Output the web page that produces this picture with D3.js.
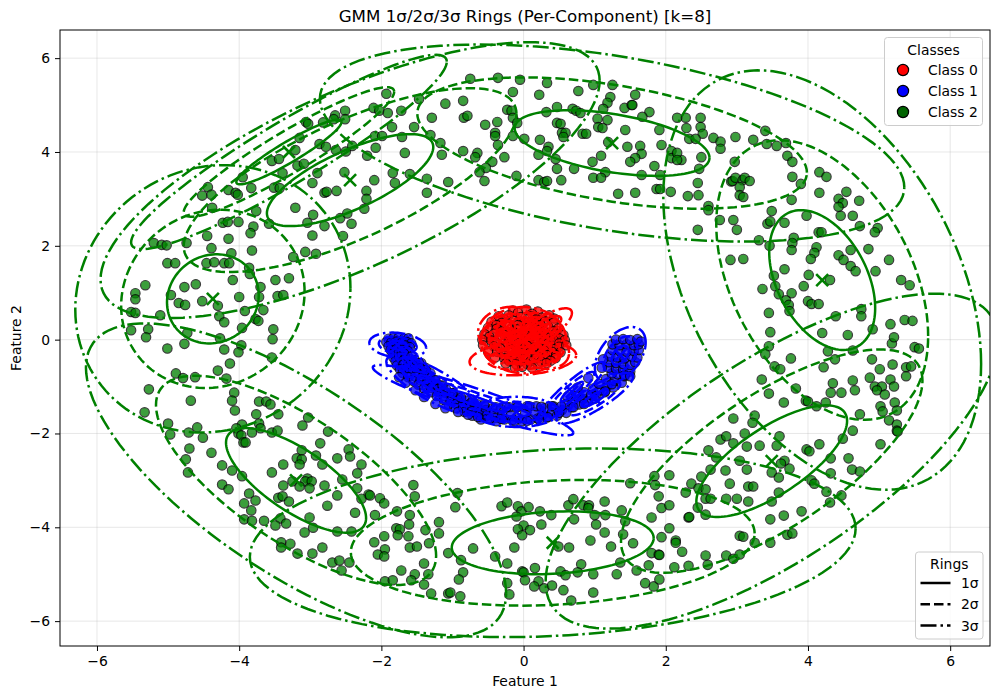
<!DOCTYPE html>
<html>

<head>
    <meta charset="utf-8">
    <style>
        body {
            margin: 0;
            background: white;
        }

        svg text {
            font-family: "DejaVu Sans", sans-serif;
            fill: black;
        }

        .grid line {
            stroke: #b0b0b0;
            stroke-opacity: 0.3;
        }
    </style>
</head>

<body>
    <svg width="999" height="699"></svg>
</body>

<script src="https://d3js.org/d3.v7.min.js"></script>

<script>
    let margin = { top: 30, right: 9, bottom: 53, left: 60 };
    let width = 999;
    let height = 699;

    let xDomain = [-6.52, 6.56];
    let yDomain = [-6.53, 6.6];
    let tickValues = [-6, -4, -2, 0, 2, 4, 6];
    let classNames = ["Class 0", "Class 1", "Class 2"];
    let classColors = ["#ff0000", "#0000ff", "#008000"];
    let legendColors = ["#ff0000", "#0000ff", "#006400"];
    let ringLevels = [1, 2, 3];
    let ringLabels = ["1σ", "2σ", "3σ"];

    // cx, cy, sx, sy, rho of each mixture component
    let ringsClass0 = [
        [0, -0.01, 0.2, 0.235, 0],
        [0.23, 0.17, 0.15, 0.166, 0.8],
        [-0.01, -0.4, 0.25, 0.12, 0.2],
        [-0.25, 0.1, 0.12, 0.15, 0.3],
        [-0.25, 0.25, 0.13, 0.15, 0.2],
        [0.25, -0.2, 0.13, 0.14, -0.2],
        [-0.1, -0.15, 0.15, 0.12, 0.3],
        [0.1, 0.3, 0.14, 0.09, 0]
    ];
    let ringsClass1 = [
        [-1.77, -0.12, 0.133, 0.09, -0.2],
        [1.36, -0.33, 0.119, 0.2, 0.45],
        [-0.71, -1.29, 0.47, 0.25, -0.93],
        [0.68, -1.11, 0.157, 0.21, 0.9],
        [-0.1, -1.54, 0.2, 0.107, 0],
        [-1.27, -0.97, 0.22, 0.21, -0.8],
        [1.0, -1.25, 0.18, 0.18, 0.85],
        [-1.6, -0.5, 0.1, 0.14, -0.7]
    ];
    let ringsClass2 = [
        [-4.37, 0.87, 0.645, 0.95, 0.08],
        [-3.3, 4.0, 0.74, 0.69, 0.93],
        [-2.44, 3.4, 1.17, 0.98, 0.72],
        [1.245, 4.19, 1.37, 0.7, -0.45],
        [4.2, 1.27, 0.745, 1.49, -0.4],
        [3.49, -2.59, 1.06, 1.19, 0.72],
        [0.41, -4.33, 1.42, 0.67, 0.15],
        [-3.2, -3.0, 0.985, 1.115, -0.72]
    ];

    let pointsClass0 = [
        [-0.15, 0.62], [0.04, 0.64], [0.2, 0.6], [-0.08, 0.57], [0.12, 0.55],
        [-0.35, 0.5], [-0.21, 0.52], [-0.04, 0.48], [0.1, 0.5], [0.26, 0.47], [0.36, 0.52], [-0.28, 0.44], [0.18, 0.43], [0.43, 0.45],
        [-0.45, 0.38], [-0.31, 0.36], [-0.14, 0.4], [0.01, 0.37], [0.15, 0.35], [0.3, 0.39], [0.42, 0.36], [-0.38, 0.31], [-0.08, 0.31], [0.08, 0.29], [0.24, 0.31],
        [-0.5, 0.25], [-0.38, 0.23], [-0.22, 0.27], [-0.08, 0.22], [0.06, 0.25], [0.2, 0.21], [0.35, 0.26], [0.49, 0.24], [-0.3, 0.18], [-0.15, 0.17], [0.13, 0.17], [0.28, 0.18], [0.42, 0.18],
        [-0.55, 0.12], [-0.41, 0.13], [-0.27, 0.1], [-0.12, 0.13], [0.03, 0.1], [0.17, 0.12], [0.3, 0.09], [0.45, 0.12], [0.56, 0.1], [-0.48, 0.06], [-0.2, 0.05], [-0.05, 0.04], [0.1, 0.05], [0.24, 0.03], [0.38, 0.05], [0.5, 0.03],
        [-0.58, 0], [-0.45, -0.02], [-0.3, 0.01], [-0.16, -0.02], [0, -0.01], [0.13, 0.01], [0.28, -0.03], [0.42, 0], [0.58, -0.01], [-0.38, -0.07], [-0.22, -0.08], [-0.07, -0.07], [0.07, -0.08], [0.2, -0.06], [0.35, -0.07], [0.5, -0.08],
        [-0.57, -0.12], [-0.42, -0.14], [-0.25, -0.13], [-0.1, -0.15], [0.05, -0.13], [0.2, -0.15], [0.35, -0.13], [0.5, -0.15], [0.6, -0.12], [-0.33, -0.19], [-0.17, -0.2], [-0.02, -0.21], [0.13, -0.2], [0.28, -0.21], [0.43, -0.2],
        [-0.5, -0.25], [-0.37, -0.26], [-0.2, -0.27], [-0.05, -0.28], [0.1, -0.26], [0.25, -0.28], [0.4, -0.26], [0.52, -0.27], [-0.28, -0.33], [-0.12, -0.34], [0.04, -0.33], [0.18, -0.34], [0.33, -0.33], [0.46, -0.33],
        [-0.4, -0.38], [-0.27, -0.4], [-0.13, -0.4], [0.02, -0.41], [0.17, -0.4], [0.32, -0.41], [0.45, -0.39], [-0.2, -0.46], [-0.06, -0.47], [0.1, -0.46], [0.25, -0.47], [0.38, -0.45],
        [-0.25, -0.51], [-0.1, -0.53], [0.05, -0.52], [0.2, -0.53], [0.32, -0.5], [-0.02, -0.58], [0.12, -0.6], [-0.12, -0.6]
    ];

    let pointsClass1 = [
        [-1.9, 0.02], [-1.83, 0.03], [-1.76, 0.04], [-1.68, 0.02], [-1.62, 0.03], [-1.93, -0.05], [-1.86, -0.06], [-1.79, -0.04], [-1.71, -0.06], [-1.64, -0.05], [-1.58, -0.08],
        [-1.9, -0.14], [-1.82, -0.13], [-1.74, -0.14], [-1.67, -0.12], [-1.6, -0.16], [-1.87, -0.22], [-1.79, -0.2], [-1.71, -0.22], [-1.63, -0.24], [-1.84, -0.3], [-1.76, -0.29], [-1.68, -0.3],
        [-1.83, -0.38], [-1.75, -0.37], [-1.66, -0.38], [-1.58, -0.36], [-1.8, -0.46], [-1.71, -0.45], [-1.62, -0.47], [-1.53, -0.44], [-1.78, -0.55], [-1.69, -0.53], [-1.6, -0.55], [-1.5, -0.54], [-1.44, -0.5],
        [-1.74, -0.63], [-1.65, -0.62], [-1.56, -0.63], [-1.46, -0.61], [-1.38, -0.6], [-1.7, -0.71], [-1.6, -0.7], [-1.5, -0.71], [-1.4, -0.7], [-1.31, -0.72], [-1.62, -0.8], [-1.52, -0.79], [-1.42, -0.8], [-1.32, -0.78],
        [-1.55, -0.88], [-1.45, -0.87], [-1.35, -0.88], [-1.25, -0.87], [-1.48, -0.96], [-1.37, -0.95], [-1.27, -0.96], [-1.17, -0.98], [-1.4, -1.04], [-1.3, -1.03], [-1.2, -1.05], [-1.09, -1.06],
        [-1.3, -1.12], [-1.2, -1.12], [-1.1, -1.13], [-1.0, -1.14], [-1.22, -1.2], [-1.12, -1.2], [-1.02, -1.22], [-0.92, -1.21], [-1.12, -1.28], [-1.02, -1.3], [-0.92, -1.29], [-0.82, -1.3],
        [-1.05, -1.38], [-0.95, -1.37], [-0.85, -1.38], [-0.75, -1.36], [-0.65, -1.38], [-0.95, -1.46], [-0.85, -1.45], [-0.75, -1.46], [-0.65, -1.45], [-0.55, -1.42], [-0.83, -1.54], [-0.73, -1.53], [-0.63, -1.54], [-0.53, -1.5], [-0.43, -1.46],
        [-0.72, -1.62], [-0.62, -1.61], [-0.52, -1.62], [-0.42, -1.58], [-0.32, -1.48], [-0.6, -1.7], [-0.5, -1.68], [-0.4, -1.67], [-0.3, -1.6], [-0.2, -1.44], [-0.38, -1.74], [-0.27, -1.7], [-0.18, -1.62], [-0.1, -1.44],
        [-0.16, -1.72], [-0.06, -1.68], [0.02, -1.58], [0.05, -1.42], [-0.02, -1.74], [0.1, -1.7], [0.15, -1.55], [0.18, -1.42], [0.2, -1.68], [0.27, -1.6], [0.3, -1.46], [0.33, -1.66], [0.4, -1.55], [0.42, -1.42],
        [0.47, -1.62], [0.54, -1.5], [0.58, -1.38], [0.6, -1.56], [0.68, -1.44], [0.7, -1.3], [0.74, -1.2], [0.78, -1.38], [0.84, -1.26], [0.85, -1.12], [0.9, -1.32], [0.95, -1.18], [0.98, -1.04],
        [1.02, -1.2], [1.07, -1.08], [1.06, -0.94], [1.14, -1.12], [1.18, -0.98], [1.16, -0.84], [1.26, -1.02], [1.28, -0.88], [1.32, -0.74], [1.24, -0.72], [1.38, -0.92], [1.42, -0.78],
        [1.2, -0.6], [1.3, -0.62], [1.4, -0.64], [1.5, -0.68], [1.2, -0.48], [1.3, -0.5], [1.4, -0.52], [1.5, -0.54], [1.57, -0.48], [1.22, -0.36], [1.32, -0.38], [1.42, -0.4], [1.52, -0.36], [1.6, -0.38],
        [1.25, -0.22], [1.35, -0.24], [1.45, -0.26], [1.55, -0.24], [1.62, -0.22], [1.25, -0.1], [1.35, -0.12], [1.45, -0.1], [1.55, -0.12], [1.62, -0.1], [1.3, 0], [1.4, 0.01], [1.5, -0.01], [1.6, 0.01], [1.65, -0.04],
        // band edges
        [-1.47, -0.5], [-1.38, -0.65], [-1.24, -0.86], [-1.14, -0.98], [-1.0, -1.14], [-0.88, -1.24], [-0.72, -1.32], [-0.55, -1.38], [-0.39, -1.44], [-0.24, -1.44], [-0.08, -1.43], [0.08, -1.42], [0.25, -1.43], [0.4, -1.42], [0.53, -1.42],
        [0.62, -1.21], [0.76, -1.02], [0.91, -0.82], [1.1, -0.6], [1.12, -0.42],
        [-1.75, -0.8], [-1.66, -0.92], [-1.52, -1.08], [-1.4, -1.22], [-1.24, -1.37], [-1.1, -1.46], [-0.92, -1.54], [-0.78, -1.6], [-0.64, -1.65], [-0.48, -1.69], [-0.31, -1.69], [-0.13, -1.73], [0.05, -1.73], [0.22, -1.7], [0.34, -1.65],
        [0.5, -1.56], [0.7, -1.44], [0.85, -1.37], [1.0, -1.26], [1.15, -1.1], [1.24, -0.95], [1.42, -0.76], [1.5, -0.78]
    ];

    let pointsClass2 = [
        // top left
        [-2.51, 4.88], [-2.65, 4.78], [-2.51, 4.70], [-2.67, 4.70], [-2.82, 4.63], [-3.06, 4.64], [-3.03, 4.60], [-3.15, 4.30], [-3.21, 4.04], [-2.87, 4.17], [-2.78, 4.11], [-2.64, 4.04], [-2.50, 4.01], [-2.41, 4.13], [-2.20, 3.92], [-3.54, 3.81], [-3.44, 3.85], [-3.18, 3.71], [-3.09, 3.75], [-3.39, 3.55], [-2.90, 3.55], [-2.52, 3.57], [-2.97, 3.34], [-3.95, 3.46], [-3.83, 3.23], [-3.51, 3.24], [-3.43, 3.23], [-4.44, 3.25], [-4.52, 3.07], [-4.39, 3.09], [-4.15, 3.19], [-4.05, 3.13], [-4.02, 3.09], [-2.80, 3.13], [-2.77, 3.15], [-2.63, 3.17], [-2.21, 3.17], [-2.21, 3.00], [-2.24, 2.79], [-3.21, 2.81], [-4.38, 2.81], [-3.76, 2.74], [-2.96, 2.66], [-2.58, 2.59], [-2.48, 2.69], [-2.42, 2.47], [-4.23, 2.49], [-4.16, 2.51], [-4.01, 2.51], [-3.80, 2.41], [-3.84, 2.27], [-3.58, 2.47], [-3.04, 2.49], [-2.80, 2.42], [-4.45, 2.21], [-4.15, 2.15], [-2.97, 2.22], [-2.54, 2.21], [-5.20, 2.06], [-5.09, 2.02], [-5.02, 2.01], [-4.74, 2.06], [-4.39, 1.95], [-4.11, 1.84], [-3.82, 1.90], [-3.07, 1.87], [-2.92, 1.83], [-3.24, 1.76], [-5.01, 1.63], [-4.90, 1.63], [-4.46, 1.63], [-4.35, 1.65], [-4.21, 1.63], [-4.14, 1.63], [-3.86, 1.53], [-3.85, 1.40], [-4.09, 1.27], [-3.49, 1.27], [-3.30, 1.31], [-5.32, 1.16], [-4.77, 1.12], [-4.61, 1.18], [-5.46, 0.99], [-5.46, 0.86], [-4.96, 0.95], [-3.70, 1.12], [-3.72, 0.91], [-4.00, 0.91], [-3.46, 0.93], [-3.38, 0.95], [-4.85, 0.78], [-4.76, 0.74], [-4.52, 0.82], [-4.30, 0.72], [-5.52, 0.59], [-5.46, 0.57], [-5.11, 0.52], [-4.28, 0.50], [-3.92, 0.61], [-3.66, 0.63], [-3.77, 0.44], [-3.73, 0.40], [-4.21, 0.37], [-5.28, 0.22], [-5.52, 0.20], [-3.96, 0.25], [-3.52, 0.22], [-4.73, 0.14], [-5.31, 0.05], [-4.27, 0.03], [-3.53, 0.01],
        // bottom left
        [-5.01, -0.19], [-4.77, -0.09], [-4.21, -0.21], [-3.97, -0.12], [-4.01, -0.27], [-3.54, -0.38], [-4.13, -0.51], [-4.89, -0.72], [-4.79, -0.82], [-4.62, -0.80], [-4.30, -0.66], [-4.18, -0.83], [-5.27, -1.06], [-4.68, -1.30], [-4.07, -1.13], [-4.10, -1.30], [-4.06, -1.51], [-3.72, -1.32], [-3.62, -1.32], [-3.56, -1.38], [-3.45, -1.59], [-3.76, -1.59], [-5.33, -1.55], [-3.03, -1.66], [-3.11, -1.83], [-2.75, -1.96], [-5.00, -1.79], [-4.97, -2.02], [-4.71, -1.98], [-4.59, -1.87], [-4.51, -2.09], [-3.96, -1.81], [-4.04, -1.89], [-4.01, -2.00], [-3.97, -2.04], [-3.82, -1.98], [-3.72, -1.79], [-3.70, -1.89], [-3.54, -1.98], [-3.46, -1.94], [-3.94, -2.19], [-3.91, -2.19], [-4.70, -2.32], [-4.75, -2.55], [-4.39, -2.41], [-4.72, -2.83], [-4.24, -2.68], [-4.10, -2.79], [-3.96, -2.91], [-3.12, -2.36], [-3.19, -2.53], [-3.12, -2.55], [-3.15, -2.66], [-3.38, -2.66], [-2.92, -2.47], [-2.86, -2.21], [-2.83, -2.66], [-2.62, -2.53], [-2.46, -2.34], [-2.44, -2.49], [-2.28, -2.66], [-2.34, -2.85], [-3.54, -2.83], [-3.25, -3.02], [-3.04, -2.96], [-3.07, -3.02], [-2.98, -3.02], [-3.38, -3.11], [-3.15, -3.13], [-3.01, -3.17], [-2.80, -3.11], [-2.55, -2.98], [-2.34, -3.17], [-2.18, -3.30], [-2.28, -3.39], [-2.62, -3.32], [-4.24, -3.09], [-4.15, -3.19], [-3.86, -3.28], [-3.77, -3.43], [-3.93, -3.49], [-3.83, -3.64], [-3.45, -3.37], [-3.39, -3.34], [-3.30, -3.45], [-2.76, -3.54], [-2.37, -3.69], [-3.93, -3.83], [-3.82, -3.86], [-3.65, -3.86], [-3.42, -3.81], [-3.49, -3.96], [-3.34, -3.92], [-3.01, -3.79], [-2.96, -4.01], [-3.08, -4.11], [-2.62, -4.09], [-2.42, -4.09], [-3.41, -4.32], [-3.28, -4.35], [-3.41, -4.43], [-3.18, -4.56], [-2.97, -4.56], [-2.83, -4.43], [-2.69, -4.75], [-2.59, -4.71], [-2.45, -4.75], [-2.56, -4.92],
        // bottom middle
        [-1.55, -3.10], [-1.53, -3.34], [-2.16, -3.32], [-2.02, -3.38], [-1.96, -3.49], [-1.78, -3.66], [-2.09, -3.74], [-1.60, -3.74], [-1.61, -3.94], [-0.93, -3.27], [-0.96, -3.57], [-1.19, -3.89], [-1.19, -4.13], [-1.38, -4.06], [-1.79, -4.02], [-1.74, -4.04], [-1.77, -4.17], [-1.62, -4.19], [-1.96, -4.19], [-2.10, -4.32], [-1.95, -4.47], [-1.60, -4.43], [-1.50, -4.41], [-1.33, -4.34], [-2.05, -4.58], [-1.96, -4.62], [-1.06, -4.55], [-0.88, -4.70], [-0.71, -4.45], [-0.40, -4.62], [-0.13, -4.43], [-0.23, -4.77], [-0.85, -4.96], [-0.91, -5.11], [-1.40, -4.77], [-1.72, -4.92], [-1.53, -5.00], [-1.34, -5.00], [-1.58, -5.13], [-1.95, -5.15], [-1.84, -5.13], [-1.40, -5.22], [-1.30, -5.41], [-1.06, -5.41], [-1.03, -5.39], [-0.89, -5.47], [-0.31, -3.55], [-0.23, -3.47], [-0.08, -3.55], [-0.03, -3.66], [0.07, -3.57], [-0.10, -3.77], [0.23, -3.66], [0.39, -3.74], [0.25, -3.94], [0.00, -3.96], [-0.08, -4.04], [0.09, -4.06], [-0.02, -4.17], [0.63, -3.53], [0.70, -3.40], [0.84, -3.53], [0.92, -3.53], [0.91, -3.59], [1.14, -3.45], [0.71, -3.83], [1.00, -3.74], [1.15, -3.74], [1.38, -3.64], [1.02, -3.94], [1.43, -3.87], [1.14, -4.11], [1.40, -4.15], [0.94, -4.28], [1.54, -4.34], [1.23, -4.41], [0.49, -4.41], [0.64, -4.43], [1.80, -3.79], [1.94, -3.59], [2.05, -3.53], [1.80, -4.55], [1.94, -4.21], [2.05, -4.02], [2.14, -4.28], [2.14, -4.33], [1.90, -4.58], [1.91, -4.59], [1.76, -4.81], [1.59, -4.92], [1.36, -4.75], [2.12, -4.85], [0.81, -4.79], [0.76, -4.96], [0.52, -4.94], [0.59, -5.02], [0.98, -5.00], [1.31, -5.00], [0.16, -4.87], [-0.02, -4.94], [0.00, -4.96], [0.02, -5.13], [-0.23, -5.19], [0.21, -5.15], [0.15, -5.26], [0.29, -5.30], [0.40, -5.24], [0.56, -5.34], [-0.20, -5.43], [0.67, -5.56], [0.98, -5.39], [1.71, -5.19], [1.83, -5.26], [1.91, -5.11], [1.50, -3.06], [1.84, -2.91], [1.85, -3.10], [2.05, -2.89], [1.90, -3.34],
        // bottom right
        [3.45, -0.14], [3.40, -0.31], [3.76, -0.40], [3.53, -0.57], [3.61, -0.63], [3.35, -0.85], [3.45, -1.15], [3.83, -1.04], [3.66, -1.34], [3.97, -1.30], [4.00, -1.32], [4.12, -1.42], [4.25, -1.34], [4.22, -0.59], [4.28, -0.25], [4.38, -0.42], [4.63, -0.23], [4.90, -0.42], [5.01, -0.63], [5.19, -0.53], [5.18, -0.08], [5.50, -0.16], [5.56, -0.19], [5.38, -0.59], [5.45, -0.57], [5.38, -0.78], [4.87, -0.81], [4.63, -0.87], [5.16, -0.85], [4.35, -0.93], [4.32, -1.13], [4.47, -1.13], [4.66, -1.08], [4.94, -1.00], [5.04, -1.00], [4.97, -1.08], [5.21, -1.00], [5.08, -1.17], [5.22, -1.34], [5.02, -1.42], [5.05, -1.53], [5.25, -1.51], [5.14, -1.72], [5.25, -1.81], [5.25, -1.94], [5.26, -1.96], [4.73, -1.59], [4.63, -1.94], [4.49, -2.11], [5.02, -2.23], [2.95, -1.68], [3.25, -1.62], [3.22, -1.77], [3.11, -2.00], [3.60, -2.06], [2.77, -2.13], [2.85, -2.06], [2.95, -2.21], [3.14, -2.28], [3.32, -2.26], [3.56, -2.26], [3.98, -2.34], [4.02, -2.38], [4.16, -2.23], [4.32, -2.53], [4.57, -2.53], [4.62, -2.77], [4.73, -2.81], [4.32, -2.85], [2.60, -2.36], [2.71, -2.51], [3.04, -2.58], [2.63, -2.77], [2.84, -2.79], [3.14, -2.77], [3.67, -2.58], [3.62, -2.64], [3.74, -2.75], [3.49, -2.83], [3.59, -2.94], [2.50, -2.92], [2.90, -3.07], [3.16, -3.13], [3.23, -3.13], [4.05, -3.00], [4.09, -3.07], [2.36, -3.07], [2.28, -3.26], [2.46, -3.17], [2.56, -3.19], [2.56, -3.39], [2.63, -3.39], [2.85, -3.39], [3.00, -3.39], [3.16, -3.45], [3.59, -3.26], [3.49, -3.45], [4.26, -3.24], [4.47, -3.32], [4.31, -3.47], [2.45, -3.58], [2.56, -3.73], [2.32, -3.79], [2.33, -3.78], [3.47, -3.83], [3.66, -3.75], [3.91, -3.66], [3.04, -4.18], [3.09, -4.20], [3.25, -4.33], [3.47, -4.33], [3.71, -4.16], [3.78, -4.13], [2.23, -4.52], [2.56, -4.60], [2.85, -4.60], [2.95, -4.67], [3.04, -4.58], [2.32, -4.82], [2.59, -4.80],
        // top right
        [2.28, 4.73], [2.49, 4.73], [2.29, 4.51], [2.49, 4.53], [2.52, 4.39], [2.33, 4.28], [2.42, 4.28], [2.67, 4.30], [2.77, 4.22], [2.77, 4.07], [2.98, 4.32], [3.23, 4.26], [3.40, 4.45], [3.42, 4.17], [3.56, 4.13], [3.69, 4.19], [3.71, 3.92], [3.78, 3.79], [2.97, 3.79], [2.50, 3.89], [2.47, 3.64], [2.22, 3.83], [2.45, 3.34], [2.31, 3.06], [2.46, 3.08], [3.78, 3.47], [4.16, 3.57], [4.26, 3.47], [3.90, 3.32], [2.92, 3.37], [2.94, 3.38], [2.98, 3.45], [3.08, 3.40], [3.11, 3.45], [3.18, 3.38], [3.04, 3.25], [3.04, 3.08], [3.09, 3.04], [4.16, 3.13], [3.77, 2.98], [4.54, 3.15], [4.43, 3.00], [4.49, 2.91], [4.43, 2.83], [4.72, 2.96], [2.60, 2.85], [2.60, 2.76], [3.49, 2.74], [3.98, 2.64], [4.46, 2.64], [4.63, 2.64], [2.76, 2.55], [2.95, 2.55], [2.45, 2.34], [3.00, 2.34], [3.43, 2.47], [3.47, 2.52], [3.67, 2.49], [4.73, 2.42], [4.98, 2.38], [4.94, 2.29], [4.15, 2.29], [4.19, 2.29], [3.31, 2.12], [3.80, 2.17], [3.78, 2.06], [3.46, 2.00], [3.77, 1.91], [4.12, 1.97], [4.09, 1.85], [4.04, 1.72], [4.43, 1.80], [4.50, 1.70], [4.60, 1.91], [4.85, 1.93], [5.14, 1.70], [2.91, 1.70], [3.09, 1.72], [3.67, 1.50], [4.60, 1.57], [4.67, 1.46], [4.95, 1.46], [3.52, 1.36], [4.01, 1.38], [4.31, 1.27], [5.31, 1.27], [5.43, 1.16], [3.36, 1.08], [3.54, 1.14], [3.94, 1.14], [3.59, 0.97], [3.77, 0.99], [3.69, 0.84], [4.00, 0.82], [4.05, 0.76], [4.15, 0.76], [3.73, 0.74], [3.74, 0.61], [3.45, 0.57], [4.39, 0.50], [4.75, 0.65], [4.75, 0.50], [4.91, 0.22], [5.16, 0.33], [5.36, 0.42], [5.47, 0.40], [3.47, 0.16], [4.20, 0.14], [4.56, 0.10], [5.21, 0.05],
        // top middle
        [-0.75, 5.56], [-0.36, 5.58], [-0.05, 5.54], [0.33, 5.47], [-0.15, 5.28], [0.22, 5.22], [0.77, 5.30], [0.98, 5.43], [1.25, 5.43], [1.57, 5.22], [1.22, 5.17], [1.18, 5.05], [1.12, 4.92], [-1.93, 5.24], [-1.47, 5.13], [-1.10, 5.03], [-0.85, 5.09], [-2.11, 4.94], [-2.03, 4.88], [-1.91, 4.83], [-1.72, 4.88], [-1.29, 4.73], [-0.84, 4.73], [-0.79, 4.77], [-0.23, 4.90], [-0.17, 4.88], [-0.15, 4.73], [0.32, 4.85], [0.47, 4.96], [0.69, 4.92], [0.74, 4.88], [0.80, 4.83], [1.42, 4.94], [1.52, 5.00], [1.53, 5.00], [1.77, 4.85], [1.67, 4.75], [1.04, 4.71], [1.18, 4.68], [1.05, 4.53], [1.11, 4.51], [-1.85, 4.53], [-1.54, 4.53], [-0.54, 4.58], [-0.37, 4.64], [-0.09, 4.62], [0.47, 4.62], [0.52, 4.60], [1.43, 4.47], [1.91, 4.47], [2.16, 4.73], [-2.09, 4.34], [-1.99, 4.34], [-1.71, 4.32], [-1.31, 4.36], [-0.40, 4.41], [-0.40, 4.34], [-0.15, 4.34], [0.01, 4.28], [0.23, 4.26], [0.54, 4.41], [0.59, 4.41], [0.56, 4.32], [0.83, 4.39], [0.88, 4.39], [1.19, 4.21], [-1.17, 4.19], [-0.36, 4.15], [0.35, 4.11], [0.33, 4.02], [1.46, 4.11], [1.64, 4.13], [1.94, 4.15], [-2.08, 4.09], [-1.67, 3.98], [-0.85, 4.02], [-0.65, 3.98], [-0.68, 3.89], [-1.15, 3.94], [-0.27, 3.89], [0.21, 3.94], [0.45, 3.85], [1.09, 3.92], [1.66, 3.96], [1.57, 3.87], [1.50, 3.79], [2.08, 4.02], [2.08, 3.87], [2.16, 3.98], [2.16, 3.83], [-0.44, 3.79], [0.97, 3.79], [1.84, 3.70], [-0.53, 3.66], [-0.62, 3.57], [0.47, 3.64], [0.71, 3.64], [1.15, 3.57], [-1.84, 3.55], [-1.60, 3.53], [-2.10, 3.40], [-1.81, 3.34], [-1.36, 3.43], [-1.06, 3.36], [-0.55, 3.38], [-0.10, 3.49], [0.21, 3.40], [0.29, 3.36], [0.33, 3.38], [0.53, 3.40], [0.98, 3.45], [1.09, 3.45], [1.66, 3.51], [1.92, 3.51], [-1.36, 3.13], [1.33, 3.11], [1.57, 3.13], [1.87, 3.21], [1.92, 3.21], [2.07, 3.15]
    ];

    let classPoints = [pointsClass0, pointsClass1, pointsClass2];
    let classRings = [ringsClass0, ringsClass1, ringsClass2];

    let svg = d3.select("svg");

    let x = d3.scaleLinear()
        .domain(xDomain)
        .range([margin.left, width - margin.right]);

    let y = d3.scaleLinear()
        .domain(yDomain)
        .range([height - margin.bottom, margin.top]);

    svg.append("clipPath")
        .attr("id", "plot-clip")
        .append("rect")
        .attr("x", margin.left)
        .attr("y", margin.top)
        .attr("width", width - margin.left - margin.right)
        .attr("height", height - margin.top - margin.bottom);

    // grid
    let grid = svg.append("g").attr("class", "grid");

    grid.selectAll(".vgrid")
        .data(tickValues)
        .join("line")
        .attr("class", "vgrid")
        .attr("x1", d => x(d))
        .attr("x2", d => x(d))
        .attr("y1", margin.top)
        .attr("y2", height - margin.bottom);

    grid.selectAll(".hgrid")
        .data(tickValues)
        .join("line")
        .attr("class", "hgrid")
        .attr("x1", margin.left)
        .attr("x2", width - margin.right)
        .attr("y1", d => y(d))
        .attr("y2", d => y(d));

    let plot = svg.append("g").attr("clip-path", "url(#plot-clip)");

    // points
    classPoints.forEach(function (points, i) {
        plot.append("g")
            .selectAll("circle")
            .data(points)
            .join("circle")
            .attr("cx", d => x(d[0]))
            .attr("cy", d => y(d[1]))
            .attr("r", 4.7)
            .style("fill", classColors[i])
            .style("stroke", "black")
            .style("stroke-width", 1.2)
            .style("opacity", 0.76);
    });

    // one ring = the component's covariance ellipse scaled by k
    let angles = d3.range(0, 361, 3).map(d => d * Math.PI / 180);

    function ringPoints(c, k) {
        return angles.map(function (t) {
            return [
                c[0] + k * c[2] * Math.cos(t),
                c[1] + k * c[3] * (c[4] * Math.cos(t) + Math.sqrt(1 - c[4] * c[4]) * Math.sin(t))
            ];
        });
    }

    let ringLine = d3.line()
        .x(d => x(d[0]))
        .y(d => y(d[1]));

    let dashes = { 1: null, 2: "9.5,4", 3: "16,4,2.5,4" };

    classRings.forEach(function (rings, i) {
        rings.forEach(function (c) {
            ringLevels.forEach(function (k) {
                plot.append("path")
                    .attr("d", ringLine(ringPoints(c, k)))
                    .style("fill", "none")
                    .style("stroke", classColors[i])
                    .style("stroke-width", 2.5)
                    .style("stroke-dasharray", dashes[k]);
            });

            // component mean
            let s = 6;
            [[-s, -s, s, s], [-s, s, s, -s]].forEach(function (m) {
                plot.append("line")
                    .attr("x1", x(c[0]) + m[0])
                    .attr("y1", y(c[1]) + m[1])
                    .attr("x2", x(c[0]) + m[2])
                    .attr("y2", y(c[1]) + m[3])
                    .style("stroke", classColors[i])
                    .style("stroke-width", 2.6);
            });
        });
    });

    // frame
    svg.append("rect")
        .attr("x", margin.left)
        .attr("y", margin.top)
        .attr("width", width - margin.left - margin.right)
        .attr("height", height - margin.top - margin.bottom)
        .style("fill", "none")
        .style("stroke", "black")
        .style("stroke-width", 1);

    // axes
    let tickFormat = d3.format("d");

    let xAxis = d3.axisBottom(x)
        .tickValues(tickValues)
        .tickSize(5)
        .tickPadding(5)
        .tickFormat(tickFormat);

    let yAxis = d3.axisLeft(y)
        .tickValues(tickValues)
        .tickSize(5)
        .tickPadding(5)
        .tickFormat(tickFormat);

    svg.append("g")
        .attr("transform", `translate(0, ${height - margin.bottom})`)
        .call(xAxis);

    svg.append("g")
        .attr("transform", `translate(${margin.left}, 0)`)
        .call(yAxis);

    svg.selectAll(".domain").style("display", "none");
    svg.selectAll(".tick text")
        .style("font-size", "13.9px")
        .style("font-family", "'DejaVu Sans'");

    svg.append("text")
        .attr("x", (margin.left + width - margin.right) / 2)
        .attr("y", 22)
        .attr("text-anchor", "middle")
        .style("font-size", "16.7px")
        .text("GMM 1σ/2σ/3σ Rings (Per-Component) [k=8]");

    svg.append("text")
        .attr("x", (margin.left + width - margin.right) / 2)
        .attr("y", 686)
        .attr("text-anchor", "middle")
        .style("font-size", "13.9px")
        .text("Feature 1");

    svg.append("text")
        .attr("transform", "translate(21, 338) rotate(-90)")
        .attr("text-anchor", "middle")
        .style("font-size", "13.9px")
        .text("Feature 2");

    // legends
    function legendBox(bx, by, bw, bh, title) {
        let g = svg.append("g");
        g.append("rect")
            .attr("x", bx)
            .attr("y", by)
            .attr("width", bw)
            .attr("height", bh)
            .attr("rx", 3)
            .style("fill", "white")
            .style("fill-opacity", 0.8)
            .style("stroke", "#cccccc")
            .style("stroke-width", 1);
        g.append("text")
            .attr("x", bx + bw / 2)
            .attr("y", by + 17)
            .attr("text-anchor", "middle")
            .style("font-size", "13.9px")
            .text(title);
        return g;
    }

    let classLegend = legendBox(884.5, 37.5, 98, 88, "Classes");

    classNames.forEach(function (name, i) {
        let ly = 70 + i * 21;
        classLegend.append("circle")
            .attr("cx", 903)
            .attr("cy", ly)
            .attr("r", 5.6)
            .style("fill", legendColors[i])
            .style("stroke", "black")
            .style("stroke-width", 1.2);
        classLegend.append("text")
            .attr("x", 928)
            .attr("y", ly + 5)
            .style("font-size", "13.9px")
            .text(name);
    });

    let ringLegend = legendBox(915.5, 552, 67.5, 87, "Rings");

    ringLabels.forEach(function (name, i) {
        let ly = 583 + i * 21.3;
        ringLegend.append("line")
            .attr("x1", 920.5)
            .attr("x2", 950.5)
            .attr("y1", ly)
            .attr("y2", ly)
            .style("stroke", "black")
            .style("stroke-width", 2.5)
            .style("stroke-dasharray", dashes[i + 1]);
        ringLegend.append("text")
            .attr("x", 961)
            .attr("y", ly + 5)
            .style("font-size", "13.9px")
            .text(name);
    });
</script>

</html>
